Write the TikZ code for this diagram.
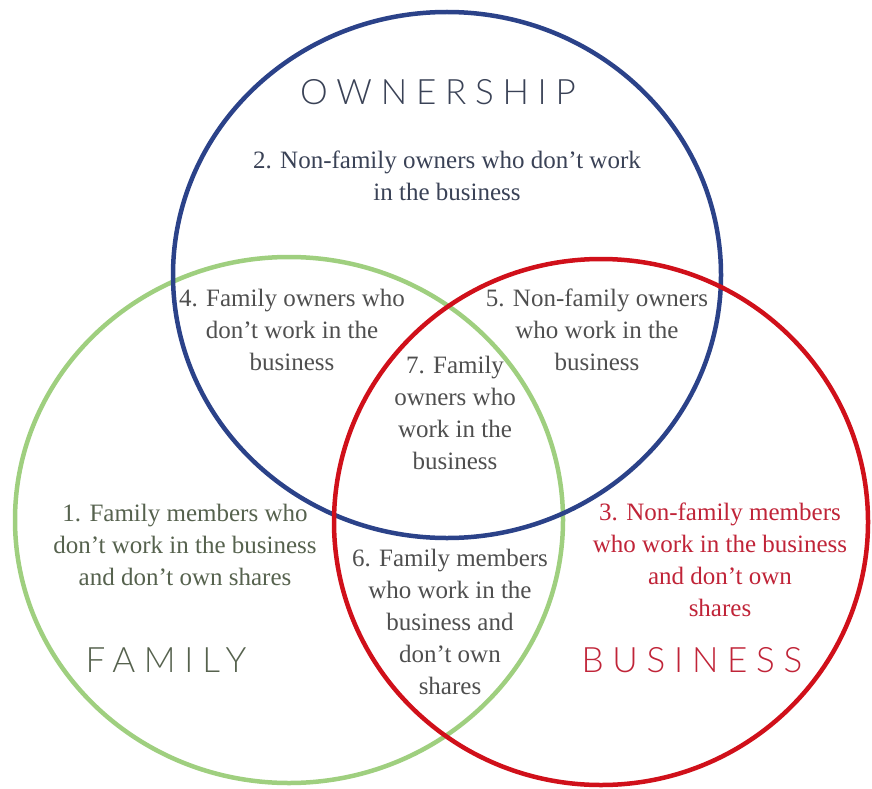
\documentclass[tikz,border=0pt]{standalone}
\usepackage{fontspec}
\setmainfont{Liberation Serif}
\newfontfamily\capsfont[LetterSpace=25, UprightFont={* Light}]{Lato}
\definecolor{ownblue}{HTML}{2B4289}
\definecolor{famgreen}{HTML}{9FCF7F}
\definecolor{busred}{HTML}{D0101A}
\definecolor{txtgray}{HTML}{4F4F4F}
\definecolor{txtgreen}{HTML}{56624E}
\definecolor{txtred}{HTML}{C02438}
\definecolor{txtnavy}{HTML}{3A4256}
\tikzset{
  region/.style={align=center, text=txtgray, font=\fontsize{25}{32}\selectfont},
  setname/.style={font=\capsfont\fontsize{35}{38}\selectfont}
}
\begin{document}
\begin{tikzpicture}[x=1pt, y=-1pt]
            \useasboundingbox (0,0) rectangle (872,789);

            \draw[famgreen, line width=4.5pt] (289,520) ellipse [x radius=274, y radius=263];
            \draw[ownblue, line width=4.5pt] (447,275) ellipse [x radius=274, y radius=263];
            \draw[busred, line width=4.5pt] (601,522) ellipse [x radius=267, y radius=263];

            \node[setname, text=txtnavy] (ownership) at (438,92) {OWNERSHIP};
            \node[setname, text=txtgreen] (family) at (166,660) {FAMILY};
            \node[setname, text=txtred] (business) at (692,660) {BUSINESS};

            \node[region, text=txtnavy] (r2) at (447,176) {2. Non-family owners who don’t work\\in the business};
            \node[region, text=txtgreen] (r1) at (185,545) {1. Family members who\\don’t work in the business\\and don’t own shares};
            \node[region, text=txtred] (r3) at (720,560) {3. Non-family members\\who work in the business\\and don’t own\\shares};
            \node[region] (r4) at (292,330) {4. Family owners who\\don’t work in the\\business};
            \node[region] (r5) at (597,330) {5. Non-family owners\\who work in the\\business};
            \node[region] (r6) at (450,622) {6. Family members\\who work in the\\business and\\don’t own\\shares};
            \node[region] (r7) at (455,413) {7. Family\\owners who\\work in the\\business};
\end{tikzpicture}
\end{document}
